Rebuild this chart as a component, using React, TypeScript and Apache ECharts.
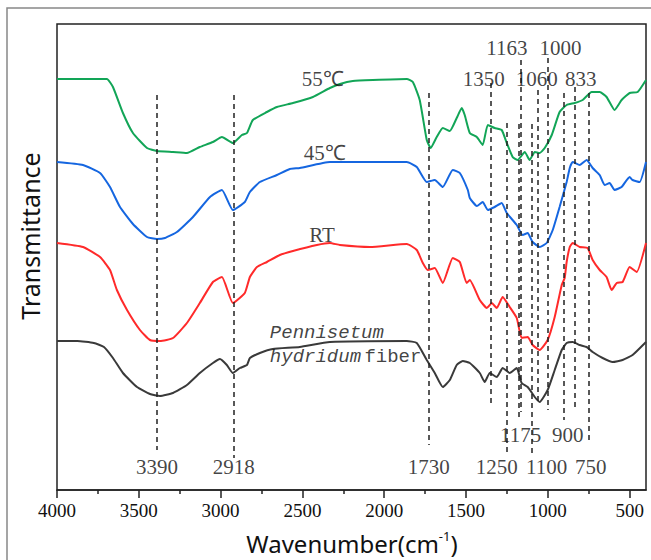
import React, { useEffect, useRef } from "react";
import * as echarts from "echarts";

// Wavenumber (cm-1) and transmittance (a.u.) for each spectrum
const greenWn = [4000, 3841, 3695, 3658, 3597, 3536, 3450, 3389, 3291, 3206, 3127, 3047, 2992, 2925, 2870, 2839, 2803, 2717, 2656, 2558, 2436, 2332, 2271, 2192, 2070, 1862, 1825, 1783, 1740, 1716, 1679, 1642, 1599, 1557, 1526, 1508, 1477, 1434, 1398, 1367, 1325, 1282, 1251, 1215, 1184, 1141, 1111, 1080, 1050, 1019, 976, 928, 885, 836, 787, 732, 683, 641, 592, 549, 500, 451, 400];
const greenT = [411, 411, 411, 403, 377, 357, 342, 339, 338, 337, 343, 348, 353, 347, 355, 357, 370, 378, 383, 387, 393, 402, 406, 409, 410, 411, 408, 390, 350, 342, 353, 362, 359, 372, 382, 375, 357, 353, 345, 365, 362, 360, 347, 333, 330, 338, 330, 338, 337, 342, 355, 378, 385, 387, 390, 398, 398, 393, 380, 390, 397, 398, 410];

const blueWn = [4000, 3841, 3737, 3676, 3615, 3536, 3450, 3389, 3340, 3267, 3169, 3065, 2992, 2925, 2852, 2821, 2760, 2656, 2577, 2516, 2332, 2088, 1862, 1801, 1740, 1691, 1642, 1581, 1538, 1489, 1477, 1434, 1398, 1367, 1325, 1282, 1251, 1190, 1154, 1123, 1093, 1050, 1007, 970, 928, 885, 866, 848, 805, 763, 726, 683, 653, 622, 592, 549, 500, 482, 439, 400];
const blueT = [328, 325, 317, 303, 283, 266, 253, 251, 252, 258, 273, 293, 300, 280, 288, 298, 308, 315, 321, 322, 328, 328, 328, 323, 308, 310, 303, 320, 317, 300, 292, 284, 288, 280, 283, 287, 277, 265, 255, 257, 248, 243, 247, 260, 283, 308, 322, 328, 325, 330, 322, 315, 305, 307, 300, 303, 313, 310, 308, 328];

const redWn = [4000, 3841, 3737, 3676, 3634, 3572, 3493, 3432, 3371, 3291, 3206, 3127, 3047, 2992, 2925, 2852, 2821, 2778, 2717, 2638, 2558, 2412, 2332, 2271, 2088, 1862, 1801, 1764, 1734, 1691, 1642, 1581, 1538, 1496, 1477, 1416, 1373, 1343, 1312, 1276, 1233, 1190, 1160, 1123, 1093, 1050, 1001, 958, 915, 897, 885, 866, 848, 805, 757, 726, 683, 641, 610, 579, 543, 500, 457, 400];
const redT = [247, 243, 233, 220, 200, 180, 160, 150, 149, 152, 167, 187, 208, 213, 187, 197, 213, 223, 228, 235, 239, 245, 247, 245, 243, 246, 240, 227, 220, 222, 207, 232, 228, 207, 210, 190, 182, 187, 182, 193, 183, 172, 152, 153, 145, 140, 150, 173, 205, 212, 228, 243, 247, 243, 242, 230, 220, 213, 200, 207, 208, 223, 218, 247];

const fiberWn = [4000, 3876, 3775, 3713, 3658, 3597, 3511, 3432, 3371, 3291, 3206, 3127, 3047, 3004, 2962, 2925, 2882, 2839, 2821, 2760, 2681, 2516, 2332, 1862, 1801, 1740, 1691, 1642, 1599, 1557, 1520, 1477, 1416, 1386, 1355, 1312, 1276, 1233, 1190, 1160, 1123, 1080, 1050, 1001, 958, 915, 885, 848, 805, 763, 726, 665, 604, 543, 482, 400];
const fiberT = [149, 149, 147, 143, 132, 117, 103, 96, 94, 97, 105, 117, 127, 131, 125, 117, 122, 125, 132, 137, 141, 143, 148, 149, 147, 130, 117, 103, 110, 125, 129, 127, 117, 108, 117, 113, 122, 117, 122, 107, 103, 93, 88, 100, 120, 140, 147, 148, 145, 143, 138, 132, 128, 130, 135, 148];

// Dashed reference lines: wavenumber, top and bottom (transmittance a.u.)
const peakWn = [3390, 2918, 1730, 1350, 1250, 1175, 1163, 1100, 1060, 1000, 900, 833, 750];
const peakTop = [395, 395, 397, 407, 367, 366, 430, 366, 400, 432, 397, 403, 397];
const peakBottom = [40, 32, 45, 85, 37, 70, 78, 35, 87, 80, 70, 80, 47];

// Peak labels
const peakLabels = ["3390", "2918", "1730", "1250", "1100", "750", "1175", "900", "1163", "1000", "1350", "1060", "833"];
const peakLabelWn = [3389, 2919, 1728, 1312, 1007, 738, 1166, 879, 1251, 922, 1392, 1068, 799];
const peakLabelT = [23, 23, 23, 23, 23, 23, 55, 55, 442, 442, 411, 411, 411];

// Curve labels
const curveLabels = ["55\u2103", "45\u2103", "RT"];
const curveLabelWn = [2375, 2363, 2380];
const curveLabelT = [411, 337, 255];

const majorTicks = [4000, 3500, 3000, 2500, 2000, 1500, 1000, 500];
const minorTicks = [3750, 3250, 2750, 2250, 1750, 1250, 750];

const zip = (a: number[], b: number[]) => a.map((v, i) => [v, b[i]]);

export default function App() {
  const ref = useRef<HTMLDivElement>(null);
  useEffect(() => {
    if (!ref.current) return;
    const chart = echarts.init(ref.current, undefined, { renderer: "svg" });
    const serif = "Liberation Serif";
    const lineSeries = (name: string, wn: number[], t: number[], color: string, extra: any = {}) => ({
      name,
      type: "line",
      data: zip(wn, t),
      showSymbol: false,
      smooth: 0.15,
      lineStyle: { color, width: 2 },
      itemStyle: { color },
      silent: true,
      ...extra,
    });
    chart.setOption({
      animation: false,
      grid: { left: 57, right: 5, top: 24, bottom: 70, show: true, borderColor: "#222", borderWidth: 1.5, outerBoundsMode: "none" },
      xAxis: [
        {
          type: "value",
          min: 400,
          max: 4000,
          inverse: true,
          position: "bottom",
          axisLine: { show: true, onZero: false, lineStyle: { color: "#222", width: 1.5 } },
          axisTick: { show: true, customValues: majorTicks, length: 8, lineStyle: { color: "#222", width: 1.5 } },
          axisLabel: { customValues: majorTicks, formatter: (v: number) => String(v), color: "#111", fontFamily: serif, fontSize: 19, margin: 11 },
          splitLine: { show: false },
        },
        {
          type: "value",
          min: 400,
          max: 4000,
          inverse: true,
          position: "bottom",
          axisLine: { show: false },
          axisTick: { show: true, customValues: minorTicks, length: 4, lineStyle: { color: "#222", width: 1.5 } },
          axisLabel: { show: false },
          splitLine: { show: false },
        },
      ],
      yAxis: { type: "value", min: 0, max: 466, show: false, splitLine: { show: false } },
      series: [
        lineSeries("55℃", greenWn, greenT, "#12a557"),
        lineSeries("45℃", blueWn, blueT, "#1566e0"),
        lineSeries("RT", redWn, redT, "#ff2a2a"),
        lineSeries("Pennisetum hydridum fiber", fiberWn, fiberT, "#3a3a3a", {
          markLine: {
            silent: true,
            symbol: ["none", "none"],
            label: { show: false },
            lineStyle: { type: [5, 4], color: "#222", width: 1.5 },
            data: peakWn.map((w, i) => [{ coord: [w, peakTop[i]] }, { coord: [w, peakBottom[i]] }]),
          },
        }),
        {
          type: "scatter",
          silent: true,
          symbolSize: 0,
          data: peakLabelWn.map((w, i) => [w, peakLabelT[i], peakLabels[i]]),
          label: {
            show: true,
            position: "inside",
            formatter: (p: any) => p.value[2],
            color: "#111",
            fontFamily: serif,
            fontSize: 21,
          },
          z: 5,
        },
        {
          type: "scatter",
          silent: true,
          symbolSize: 0,
          data: curveLabelWn.map((w, i) => [w, curveLabelT[i], curveLabels[i]]),
          label: {
            show: true,
            position: "inside",
            formatter: (p: any) => p.value[2],
            color: "#111",
            fontFamily: serif,
            fontSize: 21,
          },
          z: 5,
        },
        {
          type: "scatter",
          silent: true,
          symbolSize: 0,
          data: [[2699, 157, "p"], [2699, 133, "h"]],
          label: {
            show: true,
            position: "inside",
            align: "left",
            formatter: (p: any) => (p.value[2] === "p" ? "{i|Pennisetum}" : "{i|hydridum} {n|fiber}"),
            rich: {
              i: { fontFamily: "Liberation Mono", fontStyle: "italic", fontSize: 19, color: "#111" },
              n: { fontFamily: "Liberation Mono", fontSize: 19, color: "#111" },
            },
          },
          z: 5,
        },
      ],
      graphic: [
        {
          type: "rect",
          shape: { x: 7, y: 8, width: 700, height: 600 },
          style: { fill: "none", stroke: "#888", lineWidth: 1.5 },
          silent: true,
        },
        {
          type: "text",
          x: 30,
          y: 236,
          rotation: Math.PI / 2,
          style: {
            text: "Transmittance",
            fontFamily: "Noto Sans",
            fontSize: 25,
            fill: "#111",
            align: "center",
            verticalAlign: "middle",
          },
        },
        {
          type: "text",
          x: 352,
          y: 542,
          style: {
            text: "{a|Wavenumber(cm}{s|-1}{a|)}",
            align: "center",
            verticalAlign: "middle",
            fill: "#111",
            rich: {
              a: { fontFamily: "Noto Sans", fontSize: 24, color: "#111", lineHeight: 26, verticalAlign: "bottom" },
              s: { fontFamily: "Noto Sans", fontSize: 13, color: "#111", lineHeight: 26, verticalAlign: "top" },
            },
          },
        },
      ],
    });
    return () => chart.dispose();
  }, []);
  return <div ref={ref} style={{ width: 651, height: 560, position: "absolute", left: 0, top: 0 }} />;
}
